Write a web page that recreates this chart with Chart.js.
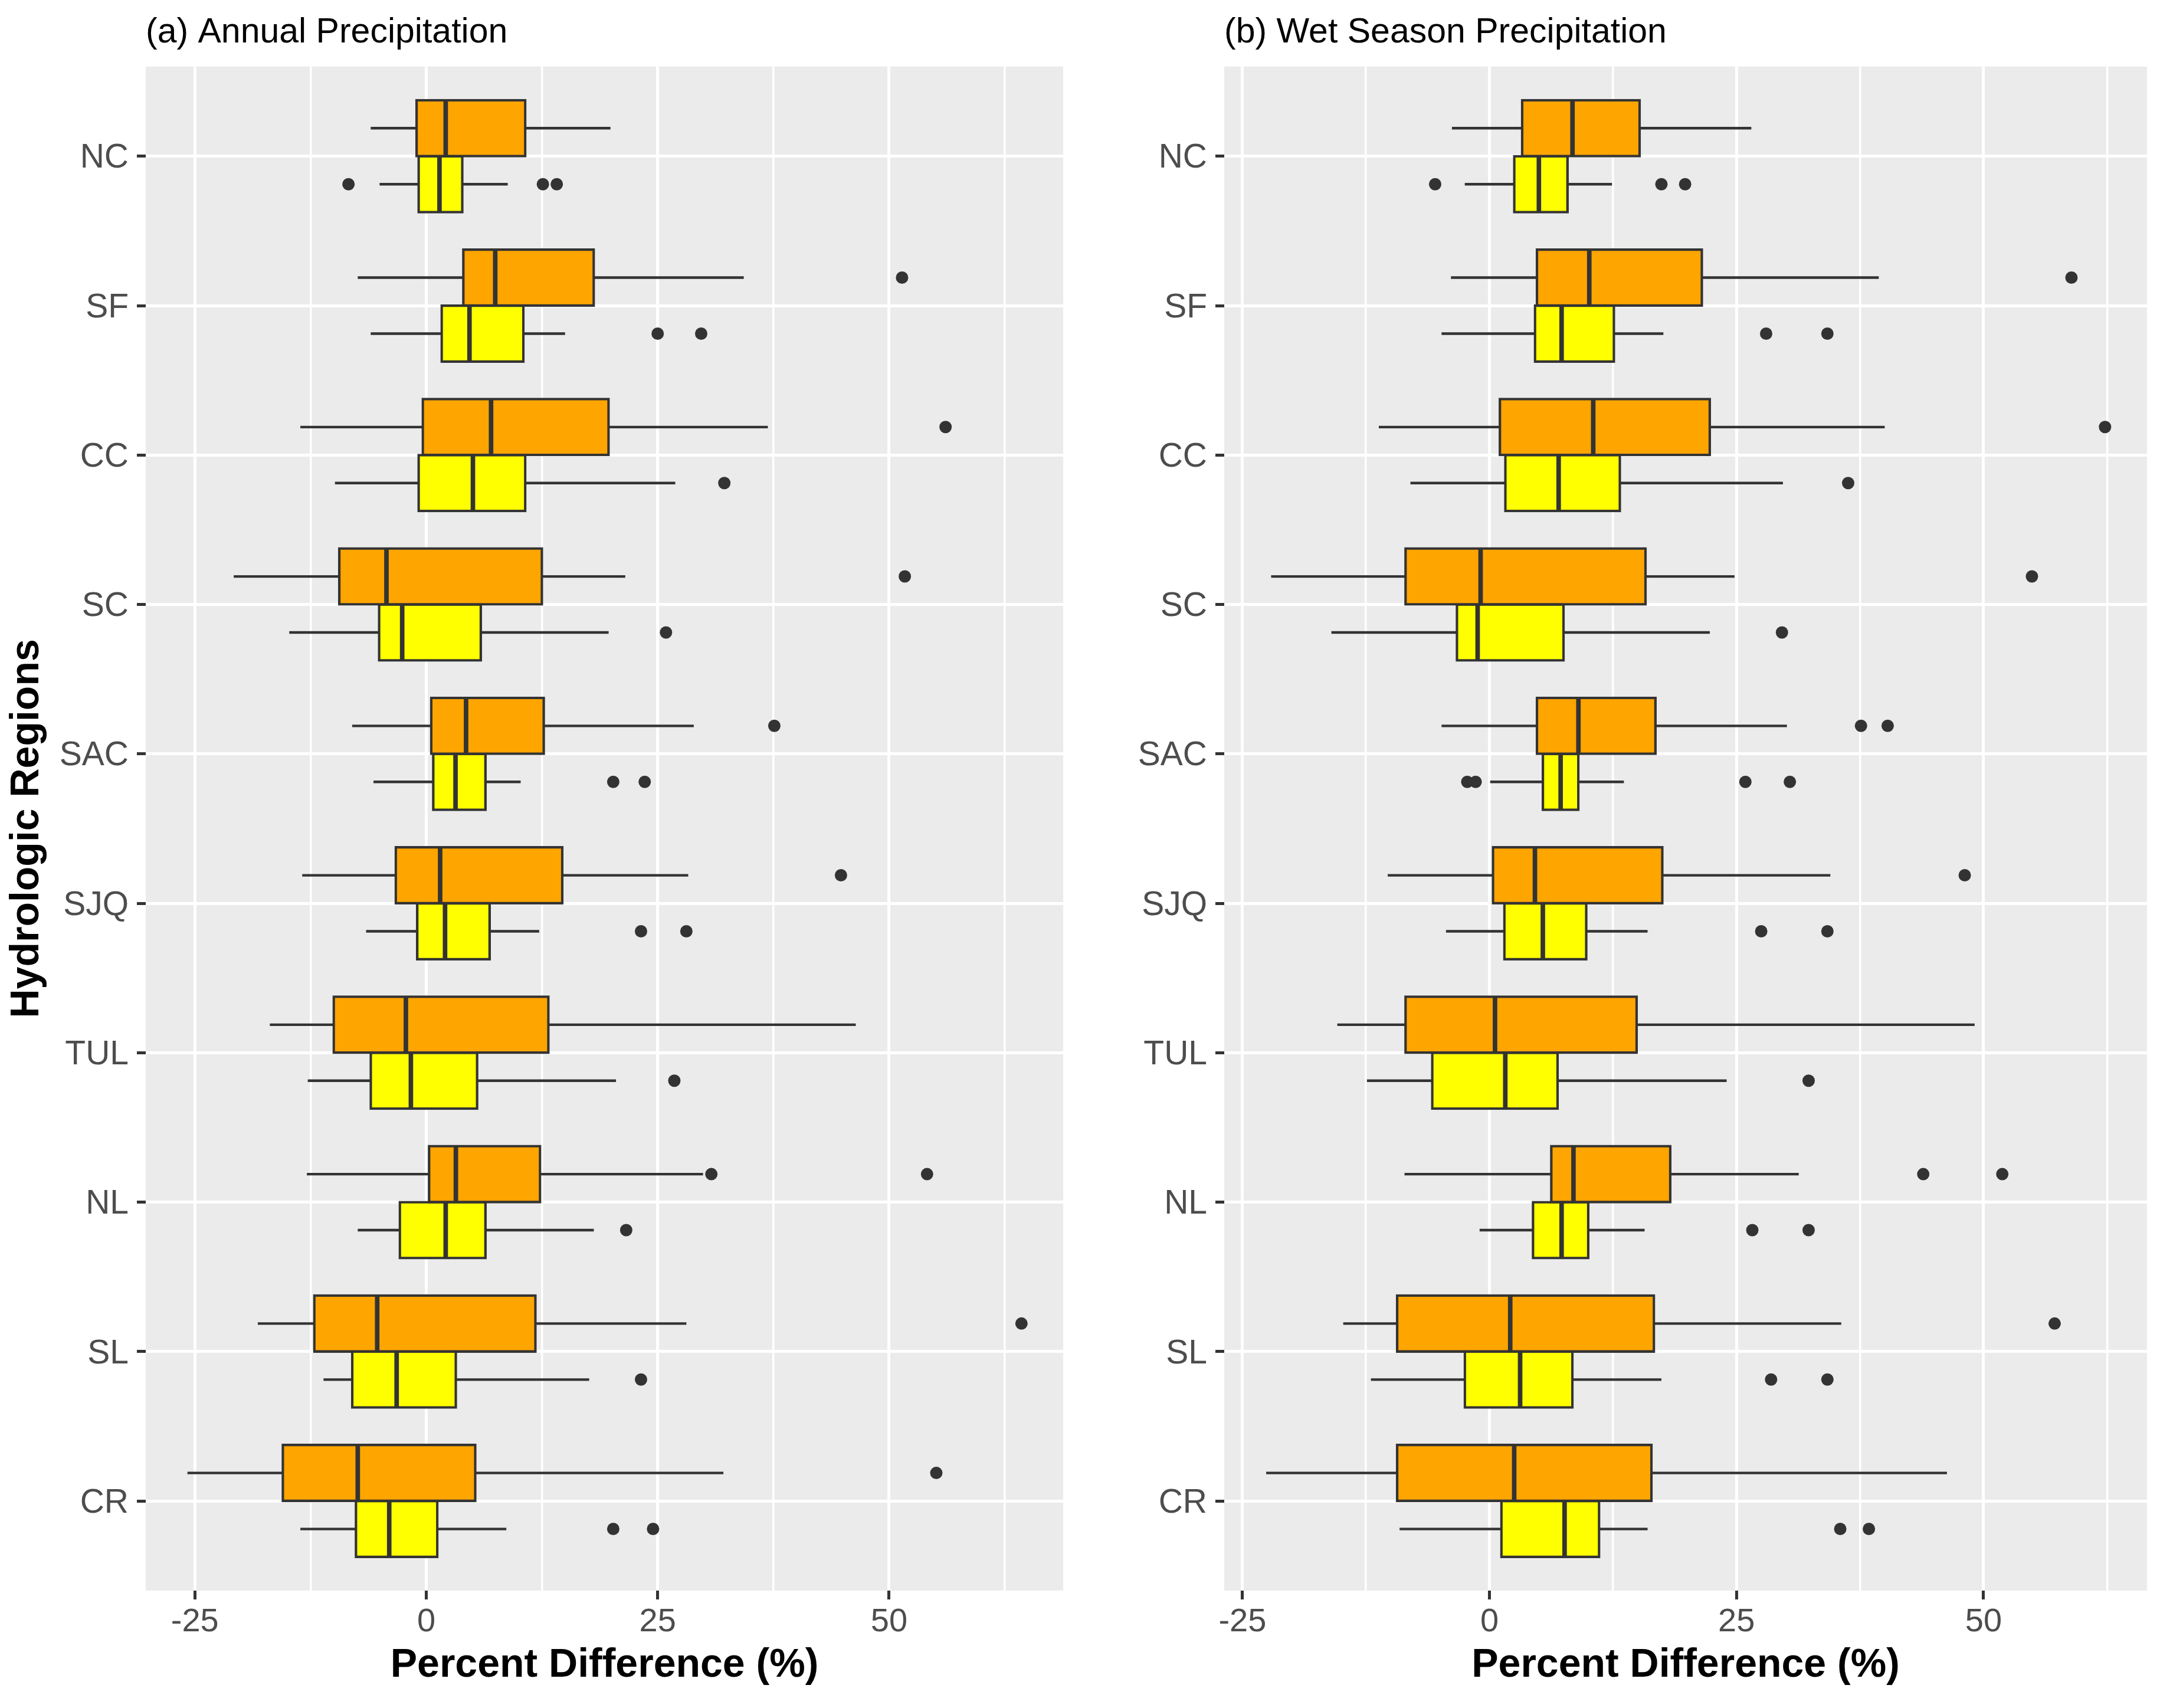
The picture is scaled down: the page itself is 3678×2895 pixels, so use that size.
<!DOCTYPE html>
<html>
<head>
<meta charset="utf-8">
<script src="https://cdn.jsdelivr.net/npm/chart.js@4.4.1/dist/chart.umd.min.js"></script>
<style>
  html, body { margin: 0; padding: 0; background: #ffffff; }
  #wrap { position: relative; width: 3678px; height: 2895px; }
  canvas { position: absolute; top: 0; }
</style>
</head>
<body>
<div id="wrap">
  <canvas id="left" width="1828" height="2895" style="left:0;width:1828px;height:2895px"></canvas>
  <canvas id="right" width="1850" height="2895" style="left:1828px;width:1850px;height:2895px"></canvas>
</div>
<script>
// ---------------- DATA ----------------
const regions = ['NC', 'SF', 'CC', 'SC', 'SAC', 'SJQ', 'TUL', 'NL', 'SL', 'CR'];
const xTickValues = [-25, -12.5, 0, 12.5, 25, 37.5, 50, 62.5];

// each row: [lower whisker, Q1, median, Q3, upper whisker]
const annualOrange = [
  [-6.0, -1.05, 2.1, 10.7, 19.9],
  [-7.4, 4.0, 7.45, 18.1, 34.3],
  [-13.6, -0.38, 7.0, 19.7, 36.9],
  [-20.8, -9.4, -4.3, 12.5, 21.5],
  [-8.0, 0.53, 4.3, 12.7, 28.9],
  [-13.4, -3.3, 1.5, 14.7, 28.3],
  [-16.9, -10.0, -2.2, 13.2, 46.4],
  [-12.9, 0.3, 3.2, 12.3, 29.9],
  [-18.2, -12.1, -5.3, 11.8, 28.1],
  [-25.8, -15.5, -7.4, 5.3, 32.1]
];
const annualOrangeOut = [[], [51.4], [56.1], [51.7], [37.6], [44.8], [], [30.8, 54.1], [64.3], [55.1]];

const annualYellow = [
  [-5.04, -0.83, 1.43, 3.9, 8.8],
  [-6.0, 1.66, 4.67, 10.5, 15.0],
  [-9.86, -0.83, 5.04, 10.7, 26.9],
  [-14.8, -5.1, -2.6, 5.9, 19.7],
  [-5.7, 0.75, 3.16, 6.4, 10.2],
  [-6.5, -0.98, 2.03, 6.85, 12.2],
  [-12.8, -6.0, -1.66, 5.5, 20.5],
  [-7.4, -2.86, 2.1, 6.4, 18.1],
  [-11.1, -8.0, -3.2, 3.2, 17.6],
  [-13.6, -7.6, -4.0, 1.2, 8.65]
];
const annualYellowOut = [[-8.4, 12.6, 14.1], [25.0, 29.7], [32.2], [25.9], [20.2, 23.6], [23.2, 28.1], [26.8], [21.6], [23.2], [20.2, 24.5]];

const wetOrange = [
  [-3.8, 3.3, 8.4, 15.2, 26.5],
  [-3.9, 4.8, 10.1, 21.5, 39.4],
  [-11.2, 1.05, 10.5, 22.3, 40.0],
  [-22.1, -8.5, -0.9, 15.8, 24.8],
  [-4.85, 4.8, 9.0, 16.8, 30.1],
  [-10.3, 0.35, 4.6, 17.5, 34.5],
  [-15.4, -8.5, 0.56, 14.9, 49.1],
  [-8.6, 6.25, 8.5, 18.3, 31.3],
  [-14.8, -9.35, 2.1, 16.65, 35.6],
  [-22.6, -9.35, 2.5, 16.4, 46.3]
];
const wetOrangeOut = [[], [58.9], [62.3], [54.9], [37.6, 40.3], [48.1], [], [43.9, 51.9], [57.2], []];

const wetYellow = [
  [-2.5, 2.5, 5.0, 7.9, 12.4],
  [-4.85, 4.6, 7.3, 12.6, 17.6],
  [-8.0, 1.6, 7.0, 13.2, 29.7],
  [-16.0, -3.3, -1.2, 7.5, 22.3],
  [0.07, 5.4, 7.2, 9.0, 13.6],
  [-4.4, 1.5, 5.4, 9.8, 16.0],
  [-12.4, -5.8, 1.6, 6.9, 24.0],
  [-1.0, 4.4, 7.3, 10.0, 15.7],
  [-12.0, -2.5, 3.1, 8.4, 17.4],
  [-9.1, 1.2, 7.6, 11.1, 16.0]
];
const wetYellowOut = [[-5.5, 17.4, 19.8], [28.0, 34.2], [36.3], [29.6], [-2.25, -1.4, 25.9, 30.4], [27.5, 34.2], [32.3], [26.6, 32.3], [28.5, 34.2], [35.5, 38.4]];

// ---------------- STYLE ----------------
const FONT = '"Liberation Sans", Arial, Helvetica, sans-serif';
const ORANGE = '#FFA500';
const YELLOW = '#FFFF00';
const LINE = '#333333';
const PANEL_BG = '#EBEBEB';

const boxParts = {
  id: 'boxParts',
  beforeDraw(chart) {
    const { ctx, chartArea: a } = chart;
    ctx.save();
    ctx.fillStyle = PANEL_BG;
    ctx.fillRect(a.left, a.top, a.right - a.left, a.bottom - a.top);
    ctx.restore();
  },
  afterDatasetsDraw(chart) {
    const ctx = chart.ctx;
    const xs = chart.scales.x;
    chart.data.datasets.forEach((ds, di) => {
      const meta = chart.getDatasetMeta(di);
      meta.data.forEach((bar, i) => {
        const p = bar.getProps(['y', 'height'], true);
        const y = p.y, h = p.height;
        const s = ds.stats[i];
        ctx.save();
        ctx.strokeStyle = LINE;
        ctx.lineCap = 'butt';
        ctx.lineWidth = 4.3;
        ctx.beginPath();
        ctx.moveTo(xs.getPixelForValue(s[0]), y);
        ctx.lineTo(xs.getPixelForValue(s[1]), y);
        ctx.moveTo(xs.getPixelForValue(s[3]), y);
        ctx.lineTo(xs.getPixelForValue(s[4]), y);
        ctx.stroke();
        ctx.lineWidth = 7.7;
        const mx = xs.getPixelForValue(s[2]);
        ctx.beginPath();
        ctx.moveTo(mx, y - h / 2);
        ctx.lineTo(mx, y + h / 2);
        ctx.stroke();
        ctx.fillStyle = LINE;
        ds.outliers[i].forEach(v => {
          ctx.beginPath();
          ctx.arc(xs.getPixelForValue(v), y, 10.5, 0, Math.PI * 2);
          ctx.fill();
        });
        ctx.restore();
      });
    });
  }
};

function dataRange(sets, outs) {
  let lo = Infinity, hi = -Infinity;
  sets.forEach(set => set.forEach(r => { lo = Math.min(lo, r[0]); hi = Math.max(hi, r[4]); }));
  outs.forEach(set => set.forEach(list => list.forEach(v => { lo = Math.min(lo, v); hi = Math.max(hi, v); })));
  const pad = (hi - lo) * 0.05;
  return [lo - pad, hi + pad];
}

function makeDataset(stats, outs, color) {
  return {
    data: stats.map((r, i) => ({ y: i, x: [r[1], r[3]] })),
    stats: stats,
    outliers: outs,
    backgroundColor: color,
    borderColor: LINE,
    borderWidth: 4.3,
    borderSkipped: false,
    inflateAmount: 2.1,
    categoryPercentage: 0.75,
    barPercentage: 1.0
  };
}

function makePanel(id, title, orange, orangeOut, yellow, yellowOut, yTitle, padRight) {
  const [xmin, xmax] = dataRange([orange, yellow], [orangeOut, yellowOut]);
  const isMajor = v => Math.abs(v % 25) < 1e-9;
  return new Chart(document.getElementById(id), {
    type: 'bar',
    data: {
      datasets: [
        makeDataset(orange, orangeOut, ORANGE),
        makeDataset(yellow, yellowOut, YELLOW)
      ]
    },
    plugins: [boxParts],
    options: {
      indexAxis: 'y',
      responsive: false,
      maintainAspectRatio: false,
      devicePixelRatio: 1,
      animation: false,
      events: [],
      layout: { padding: { left: 0, right: padRight, top: 0, bottom: 0 } },
      plugins: {
        legend: { display: false },
        tooltip: { enabled: false },
        title: {
          display: true,
          text: title,
          align: 'start',
          fullSize: false,
          color: '#000000',
          font: { family: FONT, size: 59, weight: 'normal', lineHeight: 1.2 },
          padding: { top: 20, bottom: 22 }
        }
      },
      scales: {
        x: {
          type: 'linear',
          position: 'bottom',
          min: xmin,
          max: xmax,
          offset: false,
          afterBuildTicks: scale => {
            scale.ticks = xTickValues.filter(v => v >= xmin && v <= xmax).map(v => ({ value: v }));
          },
          afterFit: scale => { scale.height = 199; },
          border: { display: false },
          grid: {
            offset: false,
            color: '#FFFFFF',
            lineWidth: ctx => (ctx.tick && isMajor(ctx.tick.value)) ? 5 : 3.5,
            drawTicks: true,
            tickLength: 15,
            tickWidth: 5,
            tickColor: ctx => (ctx.tick && isMajor(ctx.tick.value)) ? LINE : 'rgba(0,0,0,0)'
          },
          ticks: {
            autoSkip: false,
            maxRotation: 0,
            padding: 5,
            color: '#4D4D4D',
            font: { family: FONT, size: 56, lineHeight: 1.2 },
            callback: v => isMajor(v) ? String(v) : ''
          },
          title: {
            display: true,
            text: 'Percent Difference (%)',
            color: '#000000',
            font: { family: FONT, size: 68, weight: 'bold', lineHeight: 1.2 },
            padding: { top: 0, bottom: 31 }
          }
        },
        y: {
          type: 'linear',
          position: 'left',
          reverse: true,
          offset: false,
          min: -0.6,
          max: regions.length - 1 + 0.6,
          afterBuildTicks: scale => {
            scale.ticks = regions.map((r, i) => ({ value: i }));
          },
          afterFit: scale => { scale.width = 247; },
          border: { display: false },
          grid: {
            offset: false,
            color: '#FFFFFF',
            lineWidth: 5,
            drawTicks: true,
            tickLength: 15,
            tickWidth: 5,
            tickColor: LINE
          },
          ticks: {
            autoSkip: false,
            padding: 14,
            labelOffset: 4,
            color: '#4D4D4D',
            font: { family: FONT, size: 57, lineHeight: 1.2 },
            callback: v => regions[v]
          },
          title: {
            display: yTitle,
            text: 'Hydrologic Regions',
            color: '#000000',
            font: { family: FONT, size: 68, weight: 'bold', lineHeight: 1.2 },
            padding: { top: 5, bottom: 0 }
          }
        }
      }
    }
  });
}

makePanel('left', '(a) Annual Precipitation', annualOrange, annualOrangeOut, annualYellow, annualYellowOut, true, 26);
makePanel('right', '(b) Wet Season Precipitation', wetOrange, wetOrangeOut, wetYellow, wetYellowOut, false, 39);
</script>
</body>
</html>
